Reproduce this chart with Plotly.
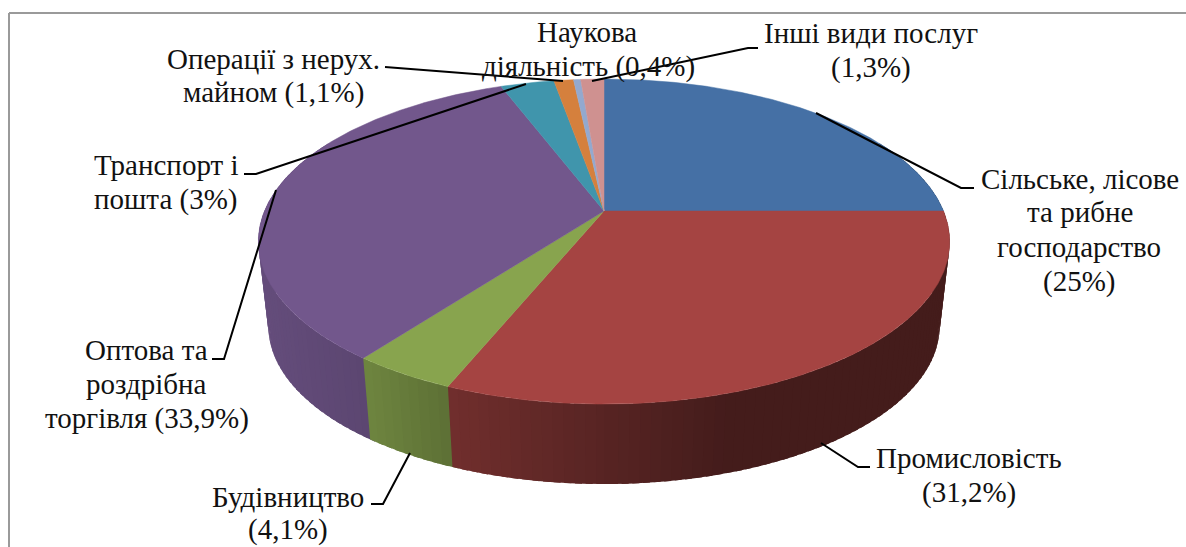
import numpy as np
import plotly.graph_objects as go

# ---- data ----
categories = ["Сільське, лісове та рибне господарство", "Промисловість", "Будівництво",
              "Оптова та роздрібна торгівля", "Транспорт і пошта", "Операції з нерух. майном",
              "Наукова діяльність", "Інші види послуг"]
values = [25, 31.2, 4.1, 33.9, 3, 1.1, 0.4, 1.3]
colors = ["#4570A5", "#A54442", "#88A44E", "#72578C", "#4095AC", "#D5803D", "#93A9CF", "#CF9190"]

label_lines = [
    ("Наукова", 587, 32), ("діяльність (0,4%)", 588, 66),
    ("Інші види послуг", 871, 33), ("(1,3%)", 871, 67),
    ("Операції з нерух.", 273, 59), ("майном (1,1%)", 273, 92),
    ("Транспорт і", 166, 165), ("пошта (3%)", 165, 199),
    ("Оптова та", 146, 350), ("роздрібна", 146, 384), ("торгівля (33,9%)", 147, 418),
    ("Будівництво", 288, 497), ("(4,1%)", 288, 529),
    ("Промисловість", 969, 458), ("(31,2%)", 969, 492),
    ("Сільське, лісове", 1080, 179), ("та рибне", 1080, 212), ("господарство", 1079, 247), ("(25%)", 1079, 281),
]
leaders = [
    [(816, 113), (961, 188), (974, 188)],
    [(821, 443), (858, 467), (870, 467)],
    [(410, 453), (383, 504), (371, 504)],
    [(276, 190), (224, 359), (212, 359)],
    [(526, 84), (256, 174), (244, 174)],
    [(563, 81), (394, 67), (385, 67)],
    [(592, 81), (748, 48), (758, 48)],
]

# ---- projection of the tilted disc ----
CX, CY = 604, 211
A, B, K = 156.8, 339.5, 0.188
DEPTH_Y, SHRINK = 85.6, 0.971


def project(theta_deg, scale=1.0, dy=0.0):
    t = np.radians(theta_deg)
    u, v = np.sin(t), np.cos(t)
    d = 1 + K * v
    return CX + scale * B * u / d, CY + dy - scale * A * v / d


def shade(hex_color, x):
    f = np.interp(x, [258, 371, 450, 604, 730, 950], [0.88, 0.80, 0.68, 0.53, 0.41, 0.41])
    r, g, b = (int(hex_color[i:i + 2], 16) for i in (1, 3, 5))
    return f"rgb({r * f:.0f},{g * f:.0f},{b * f:.0f})"


edges = np.concatenate([[0], np.cumsum(values)]) * 3.6
fig = go.Figure()


def poly(xs, ys, col, width=0.0):
    fig.add_trace(go.Scatter(x=xs, y=ys, mode="lines", fill="toself", fillcolor=col,
                             line=dict(color=col, width=width), hoverinfo="skip", showlegend=False))


# walls, back to front; each strip runs a little under its front neighbour
VIS0, VIS1 = 62, 298
strips = []
for i, col in enumerate(colors):
    lo, hi = max(edges[i], VIS0), min(edges[i + 1], VIS1)
    if hi <= lo:
        continue
    n = max(1, int((hi - lo) / 1.5))
    th = np.linspace(lo, hi, n + 1)
    for a, b in zip(th[:-1], th[1:]):
        strips.append((a, b, col))
strips.sort(key=lambda s: np.cos(np.radians((s[0] + s[1]) / 2)), reverse=True)
for a, b, col in strips:
    mid = (a + b) / 2
    # extend toward the front (theta = 180)
    if mid < 180:
        th = np.array([a, min(b + 1.0, 180.0)])
    else:
        th = np.array([max(a - 1.0, 180.0), b])
    xt, yt = project(th)
    xb, yb = project(th, SHRINK, DEPTH_Y)
    xm = project(np.array([a, b]))[0].mean()
    poly(list(xt) + list(xb[::-1]), list(yt) + list(yb[::-1]), shade(col, xm))

# top face
for i, col in enumerate(colors):
    th = np.linspace(edges[i], edges[i + 1], max(3, int(values[i] * 8)))
    x, y = project(th)
    poly([CX] + list(x) + [CX], [CY] + list(y) + [CY], col, 0.5)

# leader lines
for pts in leaders:
    fig.add_trace(go.Scatter(x=[p[0] for p in pts], y=[p[1] for p in pts], mode="lines",
                             line=dict(color="#000000", width=2), hoverinfo="skip", showlegend=False))

for text, x, y in label_lines:
    fig.add_annotation(x=x, y=y, text=text, showarrow=False, xanchor="center", yanchor="middle",
                       font=dict(family="Liberation Serif", size=29, color="#111111"))

fig.add_shape(type="line", x0=9, x1=9, y0=13, y1=547, line=dict(color="#9a9a9a", width=2))
fig.add_shape(type="line", x0=9, x1=1186, y0=13, y1=13, line=dict(color="#9a9a9a", width=2))

fig.update_layout(width=1186, height=547, margin=dict(l=0, r=0, t=0, b=0), autosize=False,
                  paper_bgcolor="white", plot_bgcolor="white",
                  xaxis=dict(range=[0, 1186], visible=False, fixedrange=True),
                  yaxis=dict(range=[547, 0], visible=False, fixedrange=True))
fig.write_html("out.html", config=dict(displayModeBar=False),
               post_script="document.body.style.margin='0';document.body.style.overflow='hidden';")
